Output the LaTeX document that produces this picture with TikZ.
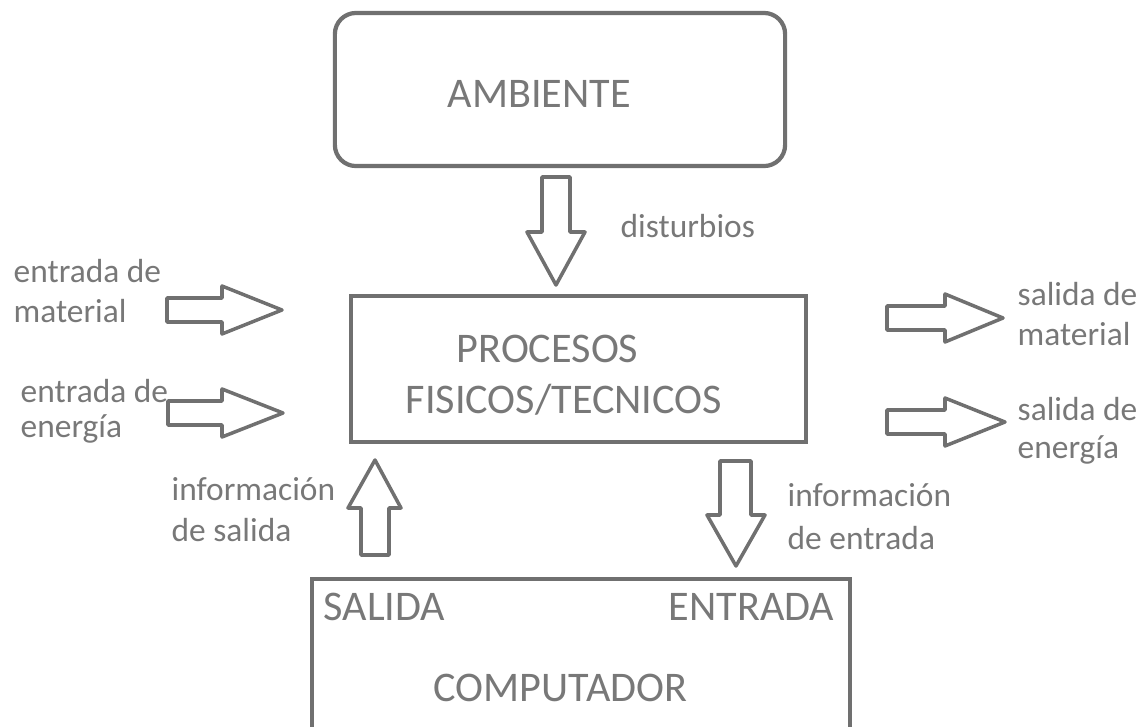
\documentclass[tikz,border=0pt]{standalone}
\usepackage{fontspec}
\setmainfont{Carlito}
\usetikzlibrary{positioning}
\definecolor{gris}{RGB}{112,112,112}
\definecolor{grist}{RGB}{120,120,120}

\begin{document}
\begin{tikzpicture}[x=0.01cm, y=-0.01cm, font=\fontsize{9.5}{11}\selectfont,
  caja/.style={draw=gris, line width=1.2pt, inner sep=0pt},
  flecha/.style={draw=gris, line width=1pt, line join=round},
  etiq/.style={text=grist, inner sep=0pt, anchor=base west},
  titulo/.style={etiq, font=\fontsize{12}{14}\selectfont}]
  \useasboundingbox (0,0) rectangle (1141,727);
  \clip (0,0) rectangle (1141,727);

  \node[caja, rounded corners=6pt, minimum width=4.5cm, minimum height=1.53cm] (ambiente) at (560,89.5) {};
  \node[caja, minimum width=4.55cm, minimum height=1.46cm] (procesos) at (578.5,369) {};
  \node[caja, minimum width=5.38cm, minimum height=2.4cm] (computador) at (581,699) {};

  \node[titulo] (tamb) at (447,107) {AMBIENTE};
  \node[titulo] (tproc1) at (456,362) {PROCESOS};
  \node[titulo] (tproc2) at (405,413) {FISICOS/TECNICOS};
  \node[titulo] (tsal) at (323,620) {SALIDA};
  \node[titulo, anchor=base east] (tent) at (835,620) {ENTRADA};
  \node[titulo] (tcomp) at (433,701) {COMPUTADOR};

  \node[etiq] (dist) at (620,237) {disturbios};
  \node[etiq] (entmat1) at (13,282) {entrada de};
  \node[etiq] (entmat2) at (13,322) {material};
  \node[etiq] (entene1) at (20,402) {entrada de};
  \node[etiq] (entene2) at (20,437) {energía};
  \node[etiq] (salmat1) at (1017,305) {salida de};
  \node[etiq] (salmat2) at (1017,345) {material};
  \node[etiq] (salene1) at (1017,420) {salida de};
  \node[etiq] (salene2) at (1017,458) {energía};
  \node[etiq] (infsal1) at (171,500) {información};
  \node[etiq] (infsal2) at (171,541) {de salida};
  \node[etiq] (infent1) at (787,506) {información};
  \node[etiq] (infent2) at (787,549) {de entrada};

  \draw[flecha] (542,177) -- (570,177) -- (570,232) -- (585,232) -- (556,285) -- (527,232) -- (542,232) -- cycle;
  \draw[flecha] (167,298) -- (222,298) -- (222,286) -- (282,310) -- (222,334) -- (222,322) -- (167,322) -- cycle;
  \draw[flecha] (168,401) -- (222,401) -- (222,389) -- (283,413) -- (222,437) -- (222,425) -- (168,425) -- cycle;
  \draw[flecha] (887,306) -- (945,306) -- (945,294) -- (1003,318) -- (945,342) -- (945,330) -- (887,330) -- cycle;
  \draw[flecha] (887,410) -- (945,410) -- (945,398) -- (1005,422) -- (945,446) -- (945,434) -- (887,434) -- cycle;
  \draw[flecha] (361,555) -- (389,555) -- (389,508) -- (401,508) -- (375,460) -- (348,508) -- (361,508) -- cycle;
  \draw[flecha] (720,461) -- (751,461) -- (751,515) -- (765,515) -- (736,566) -- (707,515) -- (720,515) -- cycle;
\end{tikzpicture}
\end{document}
